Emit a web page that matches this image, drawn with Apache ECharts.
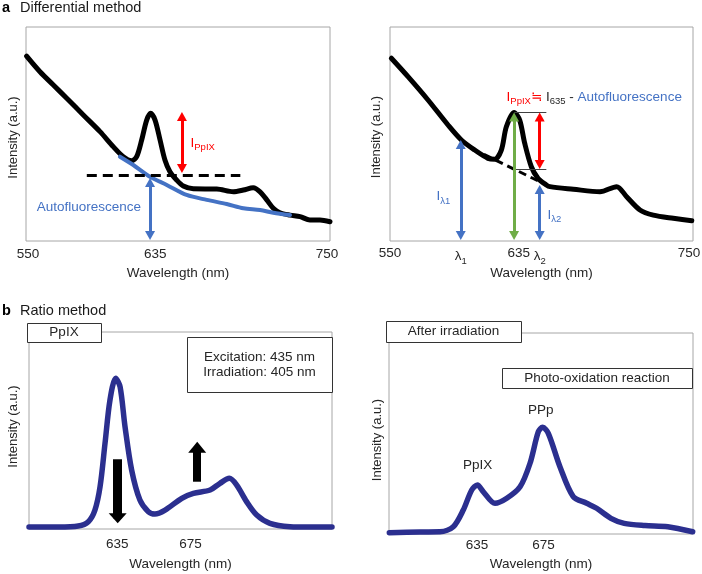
<!DOCTYPE html>
<html><head><meta charset="utf-8">
<script src="https://cdn.jsdelivr.net/npm/echarts@6/dist/echarts.min.js"></script>
<style>html,body{margin:0;padding:0;background:#fff}#c{width:702px;height:574px}</style>
</head><body><div id="c"></div>
<script>
// ---------- data ----------
const aLeftWave = [550.4, 559.2, 568.0, 576.8, 587.7, 598.7, 607.4, 614.0, 619.5, 622.8, 626.1, 629.4, 632.0, 634.9, 638.2, 641.4, 644.7, 649.1, 653.5, 660.1, 675.5, 686.4, 693.0, 699.5, 704.0, 708.4, 712.7, 717.1, 723.7, 730.3, 736.8, 743.4, 750];
const aLeftInt  = [86.4, 79.1, 72.9, 66.7, 58.9, 51.1, 44.1, 39.4, 37.5, 39.4, 47.2, 56.5, 59.7, 56.5, 47.2, 37.9, 32.4, 28.5, 25.7, 24.4, 24.3, 23.0, 23.8, 24.9, 23.0, 19.2, 15.3, 13.2, 12.1, 11.4, 9.8, 9.8, 9.0];
const aLeftAutoWave = [611.8, 620.6, 631.6, 642.6, 655.7, 668.9, 682.0, 693.0, 704.0, 712.7, 723.7];
const aLeftAutoInt  = [39.4, 35.5, 30.0, 26.2, 21.5, 19.2, 17.3, 15.3, 14.5, 13.2, 12.1];
const aRightWave = [550.9, 561.9, 575.1, 588.3, 597.1, 605.9, 614.7, 619.1, 623.5, 626.8, 631.9, 635.6, 638.9, 643.3, 647.7, 653.2, 655.6, 671.0, 688.6, 699.6, 706.2, 715.0, 723.8, 737.0, 749.2];
const aRightInt  = [85.4, 76.8, 65.9, 54.2, 47.2, 42.5, 38.6, 38.2, 42.5, 53.4, 60.1, 56.5, 45.7, 34.7, 29.3, 26.2, 25.4, 24.2, 23.0, 25.4, 20.7, 14.5, 12.1, 10.6, 9.5];
const bLeftWave = [587, 603, 613.8, 619.3, 622.9, 625.7, 628.4, 631.1, 634.2, 636.6, 639.3, 642.9, 647.4, 652.0, 655.6, 661.1, 670.2, 676.5, 685.6, 691.0, 696.1, 700.1, 705.5, 711.0, 718.2, 729.1, 740, 752];
const bLeftInt  = [1.0, 1.0, 1.5, 3.7, 9.6, 21.5, 43.5, 65.5, 76.5, 72.2, 51.9, 29.9, 14.7, 8.8, 7.6, 9.6, 15.6, 18.1, 19.8, 23.2, 25.7, 22.3, 13.9, 7.1, 2.9, 1.2, 1.0, 1.0];
const bRightWave = [582.2, 600.7, 612.7, 620.7, 626.7, 631.8, 635.2, 638.8, 645.8, 652.9, 660.9, 666.9, 671.9, 674.5, 677.9, 684.9, 692.9, 701.0, 707.0, 715.6, 723.6, 736.1, 749.8, 764.8];
const bRightInt  = [0.6, 1.0, 1.1, 3.6, 11.9, 21.9, 24.4, 21.0, 15.3, 17.8, 23.5, 35.2, 50.9, 53.1, 50.1, 33.5, 18.6, 15.3, 12.8, 7.8, 5.3, 4.2, 3.6, 1.1];

const aLeftTicks = [550, 635, 750];
const aLeftTickLabels = ['{p4l|550}', '635', '{p6r|750}'];
const aRightTicks = [550, 596.7, 635, 648.8, 750];
const aRightTickLabels = ['550', '{l|λ}{s|1}', '635', '{l|λ}{s|2}', '{p8r|750}'];
const bTicks = [635, 675];
const bTickLabels = ['635', '675'];

// ---------- style ----------
const FONT = "'Liberation Sans', Arial, 'DejaVu Sans', 'Noto Sans CJK JP', sans-serif";
const TXT = '#262626';
const RED = '#ff0000', BLUE = '#4472c4', GREEN = '#70ad47', NAVY = '#2b2f8f';
const FS = 13.5, SUB = 9.5;

const RICH = {
  l: {fontSize: FS, lineHeight: 19, fontFamily: FONT, color: TXT},
  s: {fontSize: SUB, verticalAlign: 'bottom', fontFamily: FONT, color: TXT},
  p4l: {fontSize: FS, fontFamily: FONT, color: TXT, padding: [0, 0, 0, 4]},
  p6r: {fontSize: FS, fontFamily: FONT, color: TXT, padding: [0, 6, 0, 0]},
  p8r: {fontSize: FS, fontFamily: FONT, color: TXT, padding: [0, 8, 0, 0]},
  r: {fontSize: FS, lineHeight: 18, fontFamily: FONT, color: RED},
  rs: {fontSize: SUB, verticalAlign: 'bottom', fontFamily: FONT, color: RED},
  k: {fontSize: FS, lineHeight: 18, fontFamily: FONT, color: TXT},
  ks: {fontSize: SUB, verticalAlign: 'bottom', fontFamily: FONT, color: TXT},
  bl: {fontSize: FS, lineHeight: 18, fontFamily: FONT, color: BLUE},
  bs: {fontSize: SUB, verticalAlign: 'bottom', fontFamily: FONT, color: BLUE}
};

const zip = (xs, ys) => xs.map((x, i) => [x, ys[i]]);

const gridBoxes = [
  {left: 26, top: 27, width: 304, height: 214},
  {left: 390, top: 27, width: 303, height: 214},
  {left: 29, top: 332, width: 303, height: 197},
  {left: 389, top: 333, width: 304, height: 201}
];
const grids = gridBoxes.map(g => Object.assign({}, g, {
  show: true, borderColor: '#a6a6a6', borderWidth: 1, backgroundColor: 'transparent',
  containLabel: false, outerBoundsMode: 'none'
}));

function xAxis(gi, min, max, ticks, labels, margin, gap) {
  return {
    type: 'value', gridIndex: gi, min: min, max: max,
    axisLine: {show: false}, axisTick: {show: false}, splitLine: {show: false},
    axisLabel: {
      show: true, customValues: ticks, margin: margin, hideOverlap: false,
      color: TXT, fontSize: FS, fontFamily: FONT, rich: RICH,
      formatter: v => { const i = ticks.findIndex(t => Math.abs(t - v) < 1e-6); return i >= 0 ? labels[i] : ''; }
    },
    name: 'Wavelength (nm)', nameLocation: 'middle', nameGap: gap,
    nameTextStyle: {color: TXT, fontSize: FS, fontFamily: FONT}
  };
}
function yAxis(gi, gap, pad) {
  return {
    type: 'value', gridIndex: gi, min: 0, max: 100,
    axisLine: {show: false}, axisTick: {show: false}, splitLine: {show: false}, axisLabel: {show: false},
    name: 'Intensity (a.u.)', nameLocation: 'middle', nameGap: gap,
    nameTextStyle: {color: TXT, fontSize: 13, fontFamily: FONT, padding: pad}
  };
}

function curve(ai, xs, ys, color, width) {
  return {
    type: 'line', xAxisIndex: ai, yAxisIndex: ai, data: zip(xs, ys), showSymbol: false, symbol: 'none',
    smooth: 0.3, silent: true, z: 2,
    lineStyle: {color: color, width: width, cap: 'round', join: 'round'}
  };
}

function arrows(ai, color, width, lines, opts) {
  opts = opts || {};
  return {
    type: 'line', xAxisIndex: ai, yAxisIndex: ai, data: [], silent: true, z: 5,
    markLine: {
      silent: true, animation: false,
      symbol: opts.symbol || ['triangle', 'triangle'],
      symbolSize: opts.symbolSize || [10, 9],
      label: {show: false}, emphasis: {disabled: true},
      lineStyle: {color: color, width: width, type: opts.type || 'solid', cap: 'butt', opacity: 1},
      data: lines.map(l => [{coord: l[0]}, {coord: l[1]}])
    }
  };
}

function labels(ai, items) {
  return {
    type: 'line', xAxisIndex: ai, yAxisIndex: ai, data: [], silent: true, z: 6,
    markPoint: {
      silent: true, animation: false, symbol: 'rect', symbolSize: 1,
      itemStyle: {color: 'rgba(0,0,0,0)'},
      data: items.map(it => ({
        coord: it.coord,
        label: {show: true, position: it.pos, distance: 0, formatter: it.text,
                color: it.color || TXT, fontSize: FS, fontFamily: FONT, rich: RICH}
      }))
    }
  };
}

const series = [
  curve(0, aLeftWave, aLeftInt, '#000', 5),
  curve(0, aLeftAutoWave, aLeftAutoInt, BLUE, 4),
  curve(1, aRightWave, aRightInt, '#000', 5),
  curve(2, bLeftWave, bLeftInt, NAVY, 5.5),
  curve(3, bRightWave, bRightInt, NAVY, 5.5),
  // panel a-left annotations
  arrows(0, '#000', 3, [[[590, 30.8], [691, 30.8]]], {symbol: ['none', 'none'], type: [10, 6]}),
  arrows(0, RED, 3, [[[652.6, 58.2], [652.6, 33.9]]]),
  arrows(0, BLUE, 3, [[[631.6, 27.3], [631.6, 2.6]]]),
  labels(0, [
    {coord: [591.4, 15.9], pos: 'inside', text: 'Autofluorescence', color: BLUE},
    {coord: [657.9, 45.6], pos: 'right', text: '{r|I}{rs|PpIX}'}
  ]),
  // panel a-right annotations
  arrows(1, '#000', 3, [[[612, 40.5], [648, 28]]], {symbol: ['none', 'none'], type: [8, 5]}),
  arrows(1, '#404040', 1, [[[632, 60.1], [653.2, 60.1]], [[633, 33.6], [653.2, 33.6]]], {symbol: ['none', 'none']}),
  arrows(1, BLUE, 3, [[[596.7, 45.1], [596.7, 2.6]], [[648.8, 24.1], [648.8, 2.6]]]),
  arrows(1, GREEN, 3, [[[631.9, 58.0], [631.9, 2.6]]]),
  arrows(1, RED, 3, [[[648.8, 58.0], [648.8, 35.7]]]),
  labels(1, [
    {coord: [626.6, 67.3], pos: 'right', text: '{r|I}{rs|PpIX}{r|≒ }{k|I}{ks|635}{k| - }{bl|Autofluorescence}'},
    {coord: [580.4, 20.7], pos: 'right', text: '{bl|I}{bs|λ1}'},
    {coord: [653.6, 12.1], pos: 'right', text: '{bl|I}{bs|λ2}'}
  ]),
  // panel b-left arrows
  arrows(2, '#000', 9, [[[635.3, 35.4], [635.3, 5.4]]], {symbol: ['none', 'triangle'], symbolSize: [18, 10]}),
  arrows(2, '#000', 8, [[[678.6, 24.0], [678.6, 41.5]]], {symbol: ['none', 'triangle'], symbolSize: [18, 11]}),
  // panel b-right labels
  labels(3, [
    {coord: [635.4, 34.0], pos: 'inside', text: 'PpIX'},
    {coord: [673.4, 61.7], pos: 'inside', text: 'PPp'}
  ])
];

function box(x, y, w, h) {
  return {type: 'rect', z: 100, shape: {x: x + 0.5, y: y + 0.5, width: w, height: h},
          style: {fill: '#fff', stroke: '#333', lineWidth: 1}, silent: true};
}
function txt(x, y, text, opt) {
  opt = opt || {};
  return {type: 'text', z: 101, x: x, y: y, silent: true,
          style: {text: text, fill: opt.fill || TXT, fontSize: opt.size || FS, fontWeight: opt.weight || 'normal',
                  fontFamily: FONT, align: opt.align || 'center', verticalAlign: 'middle'}};
}

const graphic = [
  txt(2, 7.5, 'a', {align: 'left', weight: 'bold', size: 14.5, fill: '#000'}),
  txt(20, 7.5, 'Differential method', {align: 'left', size: 14.5, fill: '#1a1a1a'}),
  txt(2, 310.5, 'b', {align: 'left', weight: 'bold', size: 14.5, fill: '#000'}),
  txt(20, 310.5, 'Ratio method', {align: 'left', size: 14.5, fill: '#1a1a1a'}),
  box(27, 323, 74, 19), txt(64, 332.5, 'PpIX'),
  box(187, 337, 145, 55), txt(259.5, 357, 'Excitation: 435 nm'), txt(259.5, 372.5, 'Irradiation: 405 nm'),
  box(386, 321, 135, 21), txt(453.5, 331.5, 'After irradiation'),
  box(502, 368, 190, 20), txt(597, 378.5, 'Photo-oxidation reaction')
];

const chart = echarts.init(document.getElementById('c'), null, {renderer: 'canvas'});
chart.setOption({
  animation: false,
  backgroundColor: '#fff',
  grid: grids,
  xAxis: [
    xAxis(0, 550, 750, aLeftTicks, aLeftTickLabels, 6.5, 25.5),
    xAxis(1, 550, 750, aRightTicks, aRightTickLabels, 6, 25.5),
    xAxis(2, 587, 752, bTicks, bTickLabels, 8.5, 28.5),
    xAxis(3, 582, 765, bTicks, bTickLabels, 4.5, 23.5)
  ],
  yAxis: [
    yAxis(0, 6, [0, 7, 0, 0]),
    yAxis(1, 7, [0, 6, 0, 0]),
    yAxis(2, 9, [0, 0, 0, 8]),
    yAxis(3, 5, [0, 13, 0, 0])
  ],
  series: series,
  graphic: graphic
});
</script>
</body></html>
